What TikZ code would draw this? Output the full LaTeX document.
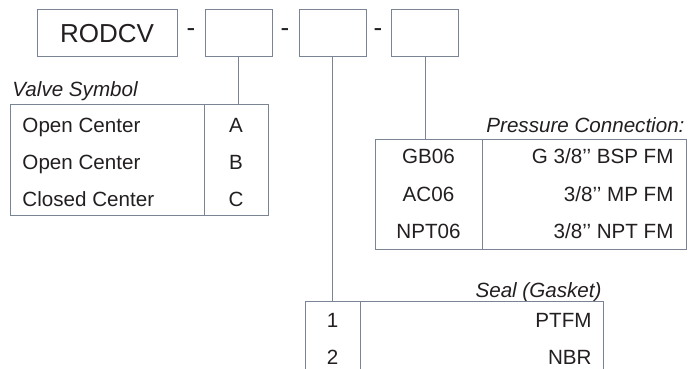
\documentclass[tikz,border=0pt]{standalone}
\usepackage{fontspec}
\setmainfont{Liberation Sans}
\usepackage{xcolor}
\definecolor{rulegray}{RGB}{122,132,148}
\definecolor{ink}{RGB}{35,31,32}

\begin{document}
\begin{tikzpicture}[x=1pt, y=-1pt, color=rulegray, line width=1pt,
        every node/.style={text=ink, inner sep=0pt, font=\fontsize{20.6}{24}\selectfont},
        codebox/.style={draw, minimum width=67pt, minimum height=47pt},
        tablebox/.style={draw, anchor=north west},
        tabletitle/.style={font=\fontsize{20.6}{24}\selectfont\itshape}]
        \clip (0,0) rectangle (689,369);
        % code boxes
        \node[codebox, minimum width=140pt, font=\fontsize{26}{30}\selectfont] (rodcv) at (107,33.5) {RODCV};
        \node[codebox] (valvebox) at (238.5,33.5) {};
        \node[codebox] (sealbox) at (332.5,33.5) {};
        \node[codebox] (portbox) at (425,33.5) {};
        \node[anchor=base, font=\fontsize{26}{30}\selectfont] (dasha) at (191,37) {-};
        \node[anchor=base, font=\fontsize{26}{30}\selectfont] (dashb) at (285,37) {-};
        \node[anchor=base, font=\fontsize{26}{30}\selectfont] (dashc) at (378,37) {-};
        % valve symbol
        \node[tabletitle, anchor=base west] (valvetitle) at (12,97) {Valve Symbol};
        \node[tablebox, minimum width=258pt, minimum height=111pt] (valve) at (10,104) {};
        \draw ([xshift=194pt]valve.north west) -- ([xshift=194pt]valve.south west);
        \foreach \name/\code [count=\i] in {Open Center/A, Open Center/B, Closed Center/C} {
                \node[anchor=base west] (vname\i) at (22,95+37*\i) {\name};
                \node[anchor=base] (vcode\i) at (236,95+37*\i) {\code};
        }
        % pressure connection
        \node[tabletitle, anchor=base east] (porttitle) at (685,132) {Pressure Connection:};
        \node[tablebox, minimum width=311pt, minimum height=110pt] (port) at (375,139) {};
        \draw ([xshift=107pt]port.north west) -- ([xshift=107pt]port.south west);
        \node[anchor=base] (pcode1) at (428.5,164) {GB06};
        \node[anchor=base east] (pname1) at (674,164) {G 3/8’’ BSP FM};
        \node[anchor=base] (pcode2) at (428.5,201) {AC06};
        \node[anchor=base east] (pname2) at (674,201) {3/8’’ MP FM};
        \node[anchor=base] (pcode3) at (428.5,238) {NPT06};
        \node[anchor=base east] (pname3) at (674,238) {3/8’’ NPT FM};
        % seal
        \node[tabletitle, anchor=base east] (sealtitle) at (602,297) {Seal (Gasket)};
        \node[tablebox, minimum width=298pt, minimum height=74pt] (seal) at (305,301) {};
        \draw ([xshift=55pt]seal.north west) -- ([xshift=55pt]seal.south west);
        \node[anchor=base] (scode1) at (332.5,327) {1};
        \node[anchor=base east] (sname1) at (592,327) {PTFM};
        \node[anchor=base] (scode2) at (332.5,364) {2};
        \node[anchor=base east] (sname2) at (592,364) {NBR};
        % connectors
        \draw (valvebox.south) -- (valvebox.south |- valve.north);
        \draw (sealbox.south) -- (sealbox.south |- seal.north);
        \draw (portbox.south) -- (portbox.south |- port.north);
\end{tikzpicture}
\end{document}
